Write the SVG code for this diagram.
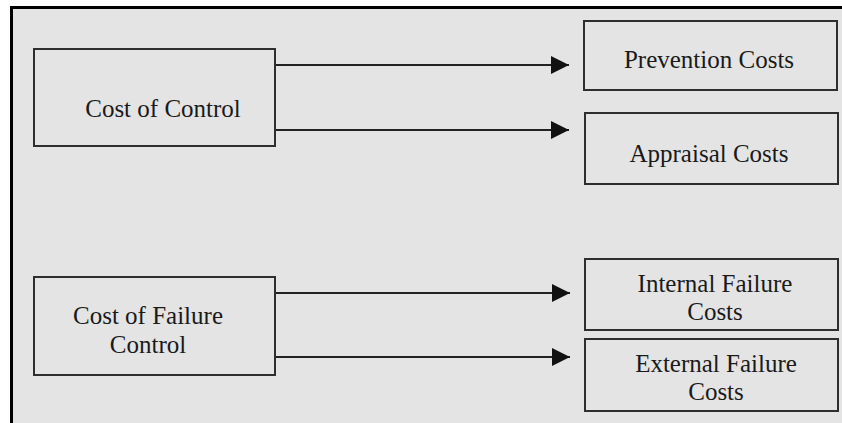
<svg xmlns="http://www.w3.org/2000/svg" width="842" height="423" viewBox="0 0 842 423">
  <style>
    .box { fill: none; stroke: #2e2e2e; stroke-width: 2; }
    .lbl { font-family: "Liberation Serif", "Times New Roman", serif; font-size: 25px; fill: #1a1a1a; text-anchor: middle; }
    .edge { stroke: #222; stroke-width: 2.2; fill: none; marker-end: url(#arrow); }
  </style>
  <defs>
    <marker id="arrow" markerUnits="userSpaceOnUse" markerWidth="19" markerHeight="20" refX="18" refY="9" orient="auto">
      <path d="M0,0 L18,9 L0,18 Z" fill="#111"/>
    </marker>
  </defs>

  <!-- page and frame -->
  <rect x="0" y="0" width="842" height="423" fill="#ffffff"/>
  <rect x="11" y="6" width="831" height="417" fill="#e4e4e4"/>
  <line x1="10" y1="7.5" x2="842" y2="7.5" stroke="#000" stroke-width="3"/>
  <line x1="11.5" y1="6" x2="11.5" y2="423" stroke="#000" stroke-width="3"/>

  <!-- connectors -->
  <g id="connectors">
    <line class="edge" x1="275" y1="65" x2="569" y2="65"/>
    <line class="edge" x1="275" y1="130" x2="569" y2="130"/>
    <line class="edge" x1="275" y1="293" x2="570" y2="293"/>
    <line class="edge" x1="275" y1="357" x2="570" y2="357"/>
  </g>

  <g id="cost-of-control">
    <rect class="box" x="34" y="49" width="241" height="97"/>
    <text class="lbl" x="163" y="117">Cost of Control</text>
  </g>

  <g id="cost-of-failure-control">
    <rect class="box" x="34" y="277" width="241" height="98"/>
    <text class="lbl" x="148" y="324">Cost of Failure</text>
    <text class="lbl" x="148" y="353">Control</text>
  </g>

  <g id="prevention-costs">
    <rect class="box" x="584" y="21" width="253" height="69"/>
    <text class="lbl" x="709" y="68">Prevention Costs</text>
  </g>

  <g id="appraisal-costs">
    <rect class="box" x="585" y="113" width="253" height="71"/>
    <text class="lbl" x="709" y="162">Appraisal Costs</text>
  </g>

  <g id="internal-failure-costs">
    <rect class="box" x="585" y="259" width="253" height="71"/>
    <text class="lbl" x="715" y="292">Internal Failure</text>
    <text class="lbl" x="715" y="320">Costs</text>
  </g>

  <g id="external-failure-costs">
    <rect class="box" x="585" y="339" width="253" height="72"/>
    <text class="lbl" x="716" y="372">External Failure</text>
    <text class="lbl" x="716" y="400">Costs</text>
  </g>
</svg>
